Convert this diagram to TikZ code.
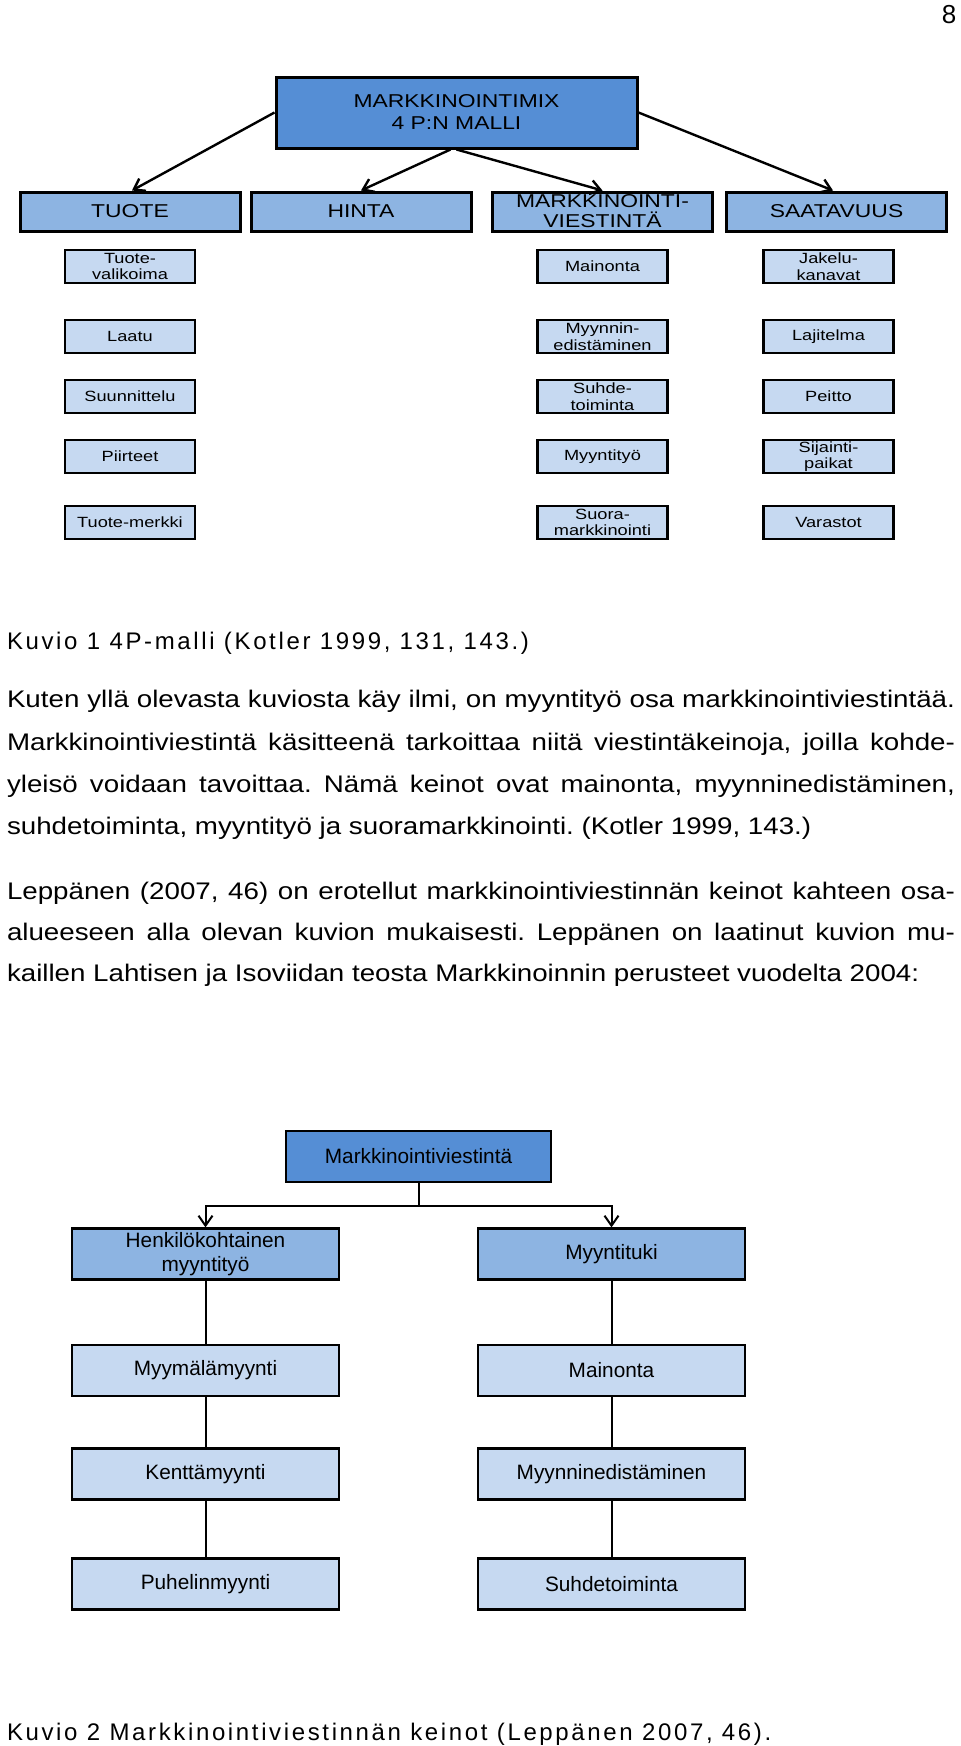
\documentclass[tikz,border=0pt]{standalone}
\usepackage{fontspec}
\setmainfont[FakeStretch=1.155]{Liberation Sans}
\newfontfamily\boxfont[FakeStretch=1.23]{Liberation Sans}
\newfontfamily\keinofont{Liberation Sans}
\newfontfamily\capfont[LetterSpace=11]{Liberation Sans}
\frenchspacing
\usepackage{color}
\definecolor{mixblue}{RGB}{85,142,213}
\definecolor{pblue}{RGB}{141,180,226}
\definecolor{itemblue}{RGB}{198,217,241}
\usepackage{tikz}
\usetikzlibrary{arrows,arrows.meta,positioning}
\tikzstyle{mixbox}=[draw,line width=1.5pt,fill=mixblue,minimum width=180.5pt,minimum height=35.5pt,inner sep=0pt,align=center,font=\boxfont\fontsize{9.3}{11}\selectfont]
\tikzstyle{pbox}=[draw,line width=1.5pt,fill=pblue,minimum width=110pt,minimum height=19.5pt,inner sep=0pt,align=center,font=\boxfont\fontsize{9.3}{10}\selectfont]
\tikzstyle{itembox}=[draw,line width=1.4pt,fill=itemblue,minimum width=65pt,minimum height=16.5pt,inner sep=0pt,align=center,font=\boxfont\fontsize{7.4}{8.3}\selectfont]
\tikzstyle{keinobox}=[draw,line width=1.1pt,minimum width=133.5pt,minimum height=25.5pt,inner sep=0pt,align=center,font=\keinofont\fontsize{10.4}{12}\selectfont]
\tikzstyle{textline}=[anchor=base west,inner sep=0pt,font=\fontsize{12}{14}\selectfont]
\tikzstyle{caption}=[anchor=base west,inner sep=0pt,font=\capfont\fontsize{12}{14}\selectfont]

\begin{document}
\begin{tikzpicture}[x=0.5pt,y=-0.5pt,line width=1pt,>={Straight Barb[length=5pt,width=7pt]}]
\useasboundingbox (0,0) rectangle (960,1746);
\draw (949,23) node [anchor=base,inner sep=0pt,font=\keinofont\fontsize{13}{15}\selectfont] (sivu) {8};

\draw (456.5,112.5) node [mixbox] (mix) {MARKKINOINTIMIX\\4 P:N MALLI};
\draw (130,211.5) node [pbox] (tuote) {TUOTE};
\draw (361,211.5) node [pbox] (hinta) {HINTA};
\draw (602.5,211.5) node [pbox] (viestinta) {MARKKINOINTI-\\VIESTINTÄ};
\draw (836.5,211.5) node [pbox] (saatavuus) {SAATAVUUS};
\draw[->,line width=1.2pt] (mix.west) -- ([xshift=1pt]tuote.north);
\draw[->,line width=1.2pt] ([xshift=-3pt]mix.south) -- (hinta.north);
\draw[->,line width=1.2pt] (mix.south) -- (viestinta.north);
\draw[->,line width=1.2pt] (mix.east) -- ([xshift=-1.75pt]saatavuus.north);

\draw (130,266.5) node [itembox] (t1) {Tuote-\\valikoima};
\draw (130,336.5) node [itembox] (t2) {Laatu};
\draw (130,396.5) node [itembox] (t3) {Suunnittelu};
\draw (130,456.5) node [itembox] (t4) {Piirteet};
\draw (130,522.5) node [itembox] (t5) {Tuote-merkki};
\draw (602.5,266.5) node [itembox] (v1) {Mainonta};
\draw (602.5,336.5) node [itembox] (v2) {Myynnin-\\edistäminen};
\draw (602.5,396.5) node [itembox] (v3) {Suhde-\\toiminta};
\draw (602.5,456.5) node [itembox] (v4) {Myyntityö};
\draw (602.5,522.5) node [itembox] (v5) {Suora-\\markkinointi};
\draw (828.5,266.5) node [itembox] (s1) {Jakelu-\\kanavat};
\draw (828.5,336.5) node [itembox] (s2) {Lajitelma};
\draw (828.5,396.5) node [itembox] (s3) {Peitto};
\draw (828.5,456.5) node [itembox] (s4) {Sijainti-\\paikat};
\draw (828.5,522.5) node [itembox] (s5) {Varastot};

\draw (6,649) node [caption] (kuvio1) {Kuvio 1 4P-malli (Kotler 1999, 131, 143.)};
\draw (6,707) node [textline] (r1) {\makebox[474pt][s]{Kuten yllä olevasta kuviosta käy ilmi, on myyntityö osa markkinointiviestintää.}};
\draw (6,750) node [textline] (r2) {\makebox[474pt][s]{Markkinointiviestintä käsitteenä tarkoittaa niitä viestintäkeinoja, joilla kohde-}};
\draw (6,792) node [textline] (r3) {\makebox[474pt][s]{yleisö voidaan tavoittaa. Nämä keinot ovat mainonta, myynninedistäminen,}};
\draw (6,834) node [textline] (r4) {suhdetoiminta, myyntityö ja suoramarkkinointi. (Kotler 1999, 143.)};
\draw (6,899) node [textline] (r5) {\makebox[474pt][s]{Leppänen (2007, 46) on erotellut markkinointiviestinnän keinot kahteen osa-}};
\draw (6,940) node [textline] (r6) {\makebox[474pt][s]{alueeseen alla olevan kuvion mukaisesti. Leppänen on laatinut kuvion mu-}};
\draw (6,981) node [textline] (r7) {kaillen Lahtisen ja Isoviidan teosta Markkinoinnin perusteet vuodelta 2004:};

\draw (418.5,1156.5) node [keinobox,fill=mixblue,minimum width=132.5pt] (mv) {Markkinointiviestintä};
\draw (205.5,1254) node [keinobox,fill=pblue] (henk) {Henkilökohtainen\\myyntityö};
\draw (611.5,1254) node [keinobox,fill=pblue] (tuki) {Myyntituki};
\draw (205.5,1370.5) node [keinobox,fill=itemblue] (h1) {Myymälämyynti};
\draw (205.5,1474) node [keinobox,fill=itemblue] (h2) {Kenttämyynti};
\draw (205.5,1584) node [keinobox,fill=itemblue] (h3) {Puhelinmyynti};
\draw (611.5,1370.5) node [keinobox,fill=itemblue] (m1) {Mainonta};
\draw (611.5,1474) node [keinobox,fill=itemblue] (m2) {Myynninedistäminen};
\draw (611.5,1584) node [keinobox,fill=itemblue] (m3) {Suhdetoiminta};
\coordinate (haara) at (418.5,1206);
\draw[->] (mv.south) -- (haara) -| (henk.north);
\draw[->] (mv.south) -- (haara) -| (tuki.north);
\draw (henk) -- (h1) -- (h2) -- (h3);
\draw (tuki) -- (m1) -- (m2) -- (m3);

\draw (6,1740) node [caption] (kuvio2) {Kuvio 2 Markkinointiviestinnän keinot (Leppänen 2007, 46).};
\end{tikzpicture}
\end{document}
